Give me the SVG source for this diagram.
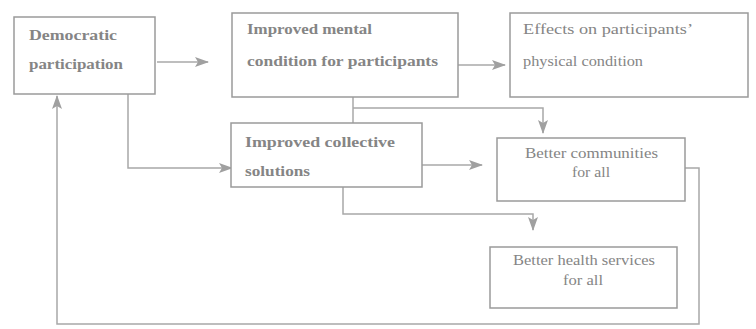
<svg xmlns="http://www.w3.org/2000/svg" width="756" height="329" viewBox="0 0 756 329">
<style>
.box{fill:#fff;stroke:#9a9a9a;stroke-width:1.5}
.t{font-family:"Liberation Serif","DejaVu Serif",serif;fill:#858585;font-size:15px}
.b{font-weight:bold}
.c{stroke:#a8a8a8;stroke-width:1.5;fill:none}
</style>
<defs>
<marker id="ah" markerWidth="14" markerHeight="10" refX="13" refY="5" orient="auto" markerUnits="userSpaceOnUse">
<path d="M0,0 L14,5 L0,10 L3,5 Z" fill="#a0a0a0"/>
</marker>
</defs>
<rect width="756" height="329" fill="#fff"/>
<g id="connectors">
<path class="c" d="M157,62 H208" marker-end="url(#ah)"/>
<path class="c" d="M458,65 H505" marker-end="url(#ah)"/>
<path class="c" d="M353,97 V123"/>
<path class="c" d="M353,108 H543 V133" marker-end="url(#ah)"/>
<path class="c" d="M128,94 V168 H232" marker-end="url(#ah)"/>
<path class="c" d="M422,165 H482" marker-end="url(#ah)"/>
<path class="c" d="M343,187 V214 H533 V230" marker-end="url(#ah)"/>
<path class="c" d="M685,168 H699 V324 H57 V96" marker-end="url(#ah)"/>
</g>
<g id="democratic">
<rect class="box" x="14" y="17" width="141" height="77"/>
<text class="t b" x="29" y="40" textLength="88" lengthAdjust="spacingAndGlyphs">Democratic</text>
<text class="t b" x="29" y="69" textLength="94" lengthAdjust="spacingAndGlyphs">participation</text>
</g>
<g id="mental">
<rect class="box" x="232" y="13" width="226" height="84"/>
<text class="t b" x="247" y="34" textLength="125" lengthAdjust="spacingAndGlyphs">Improved mental</text>
<text class="t b" x="247" y="66" textLength="191" lengthAdjust="spacingAndGlyphs">condition for participants</text>
</g>
<g id="physical">
<rect class="box" x="510" y="13" width="238" height="84"/>
<text class="t" x="523" y="34" textLength="170" lengthAdjust="spacingAndGlyphs">Effects on participants’</text>
<text class="t" x="523" y="66" textLength="120" lengthAdjust="spacingAndGlyphs">physical condition</text>
</g>
<g id="collective">
<rect class="box" x="231" y="123" width="191" height="64"/>
<text class="t b" x="245" y="147" textLength="150" lengthAdjust="spacingAndGlyphs">Improved  collective</text>
<text class="t b" x="245" y="176" textLength="65" lengthAdjust="spacingAndGlyphs">solutions</text>
</g>
<g id="communities">
<rect class="box" x="497" y="138" width="188" height="63"/>
<text class="t" x="525" y="158" textLength="133" lengthAdjust="spacingAndGlyphs">Better communities</text>
<text class="t" x="572" y="177" textLength="38" lengthAdjust="spacingAndGlyphs">for all</text>
</g>
<g id="health">
<rect class="box" x="490" y="247" width="187" height="61"/>
<text class="t" x="513" y="265" textLength="142" lengthAdjust="spacingAndGlyphs">Better health services</text>
<text class="t" x="563" y="285" textLength="40" lengthAdjust="spacingAndGlyphs">for all</text>
</g>
</svg>
